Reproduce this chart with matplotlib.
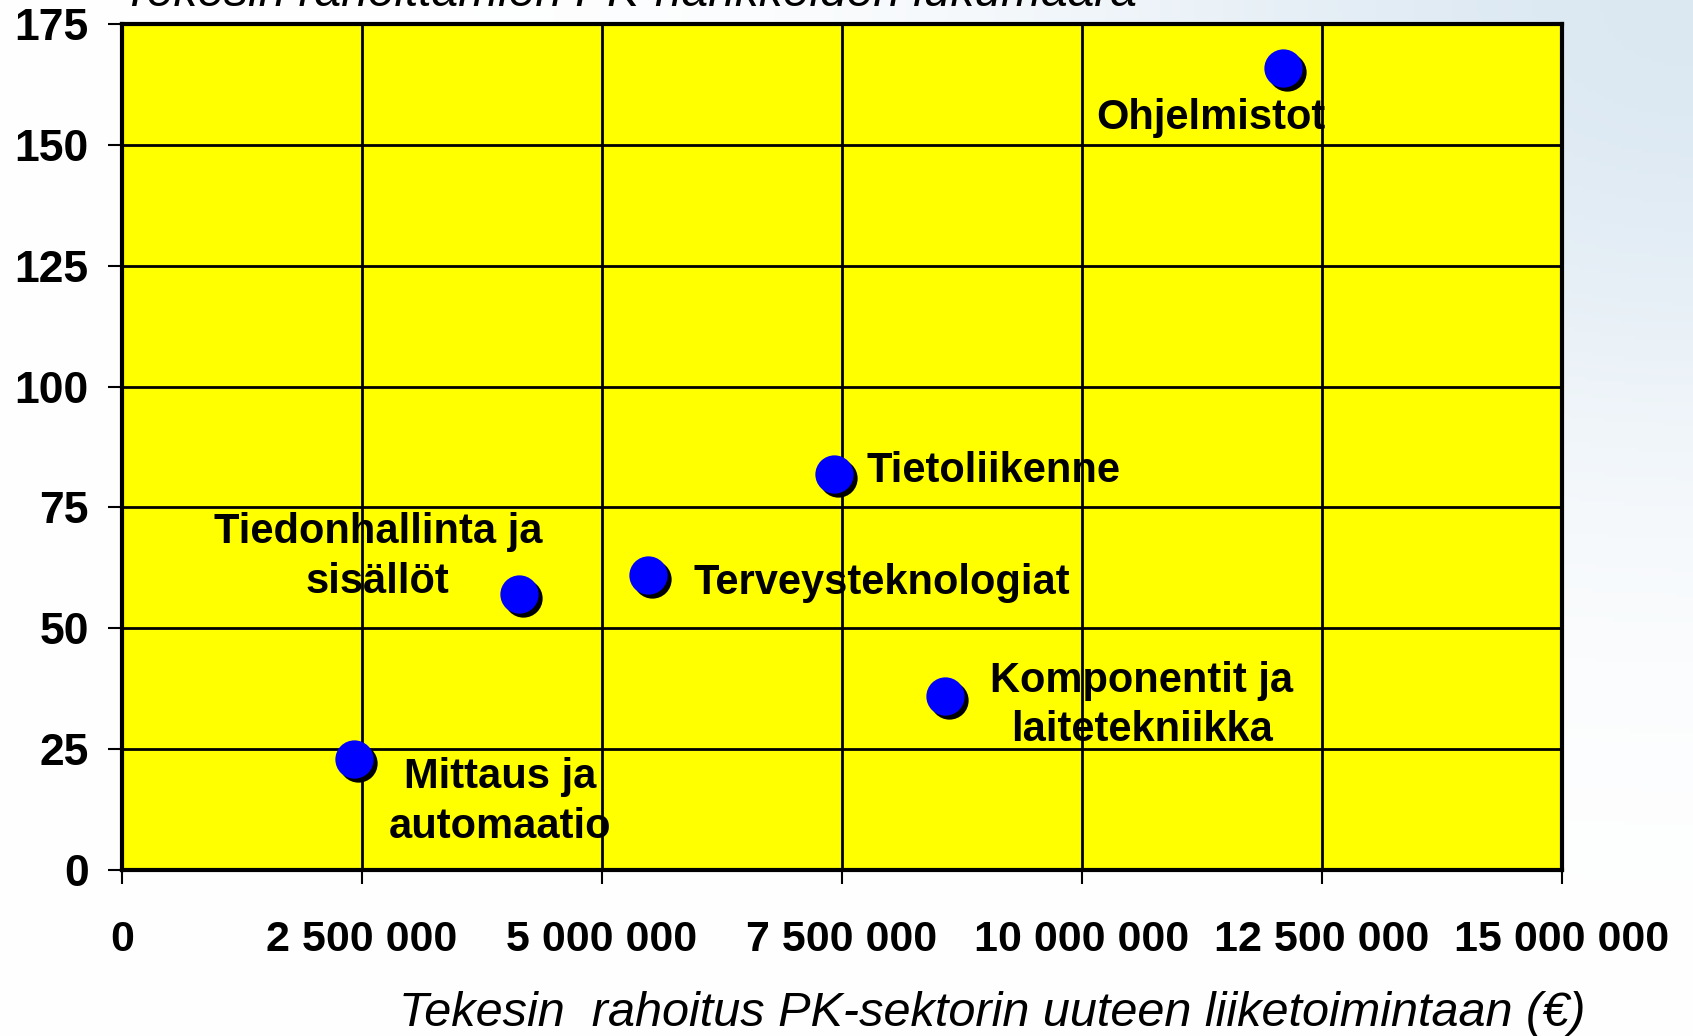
import numpy as np
import matplotlib
matplotlib.use("Agg")
import matplotlib.pyplot as plt
import matplotlib.transforms as mtransforms

plt.rcParams['font.family'] = ['Liberation Sans', 'DejaVu Sans']

# ---- data ----
categories = ["Ohjelmistot", "Tietoliikenne", "Terveysteknologiat",
              "Tiedonhallinta ja\nsisällöt", "Komponentit ja\nlaitetekniikka",
              "Mittaus ja\nautomaatio"]
funding = [12090000, 7420000, 5480000, 4140000, 8570000, 2420000]
projects = [166, 82, 61, 57, 36, 23]
x_ticks = [0, 2500000, 5000000, 7500000, 10000000, 12500000, 15000000]
y_ticks = [0, 25, 50, 75, 100, 125, 150, 175]

# label placement (offsets in points, alignment)
label_offsets = [(-52, -36), (23, 2), (33, -6), (-102, 27), (142, -7), (105, -31)]
label_ha = ["center", "left", "left", "center", "center", "center"]

fig = plt.figure(figsize=(16.93, 10.36), dpi=100)

# background wash (top-right light blue)
bg = fig.add_axes([0, 0, 1, 1], zorder=-10)
gx, gy = np.meshgrid(np.linspace(0, 1, 400), np.linspace(1, 0, 250))
w = np.exp(-(((gx - 1.0) / 0.38) ** 2 + ((gy - 1.0) / 0.45) ** 2))
w = np.clip(w * 1.0, 0, 1)
base = np.array([1.0, 1.0, 1.0])
tint = np.array([0.86, 0.91, 0.95])
img = base[None, None, :] * (1 - w[..., None]) + tint[None, None, :] * w[..., None]
bg.imshow(img, aspect='auto', extent=[0, 1, 0, 1])
bg.set_axis_off()

ax = fig.add_axes([0.0721, 0.1602, 0.8505, 0.8166])
ax.set_facecolor('#ffff00')
ax.set_xlim(0, 15000000)
ax.set_ylim(0, 175)
ax.set_xticks(x_ticks)
ax.set_yticks(y_ticks)
ax.set_xticklabels([f"{v:,}".replace(",", " ") for v in x_ticks],
                   fontsize=31, fontweight='bold')
ax.set_yticklabels([str(v) for v in y_ticks], fontsize=32, fontweight='bold')
ax.tick_params(axis='x', length=10, width=1.5, pad=26, direction='out')
ax.tick_params(axis='y', length=10, width=1.5, pad=14, direction='out')
ax.grid(True, color='black', linewidth=2.0)
ax.set_axisbelow(True)
for s in ax.spines.values():
    s.set_linewidth(3)
    s.set_color('black')

# shadows
shadow = ax.transData + mtransforms.ScaledTranslation(4 / 100, -4 / 100, fig.dpi_scale_trans)
ax.scatter(funding, projects, s=760, color='black', transform=shadow, zorder=3,
           clip_on=False, linewidths=0)
ax.scatter(funding, projects, s=760, color='#0000ff', zorder=4, clip_on=False,
           linewidths=0)

for name, xv, yv, off, ha in zip(categories, funding, projects, label_offsets, label_ha):
    ax.annotate(name, (xv, yv), xytext=off, textcoords='offset points',
                ha=ha, va='center', fontsize=30, fontweight='bold',
                linespacing=1.3, zorder=5)

ax.set_xlabel("Tekesin  rahoitus PK-sektorin uuteen liiketoimintaan (€)",
              fontsize=35, fontstyle='italic', labelpad=22, x=0.604)
fig.text(0.0721, 1 - 6 / 1036, "Tekesin rahoittamien PK-hankkeiden lukumäärä",
         fontsize=34.5, fontstyle='italic', ha='left', va='baseline')

fig.savefig("out.png", dpi=100)
